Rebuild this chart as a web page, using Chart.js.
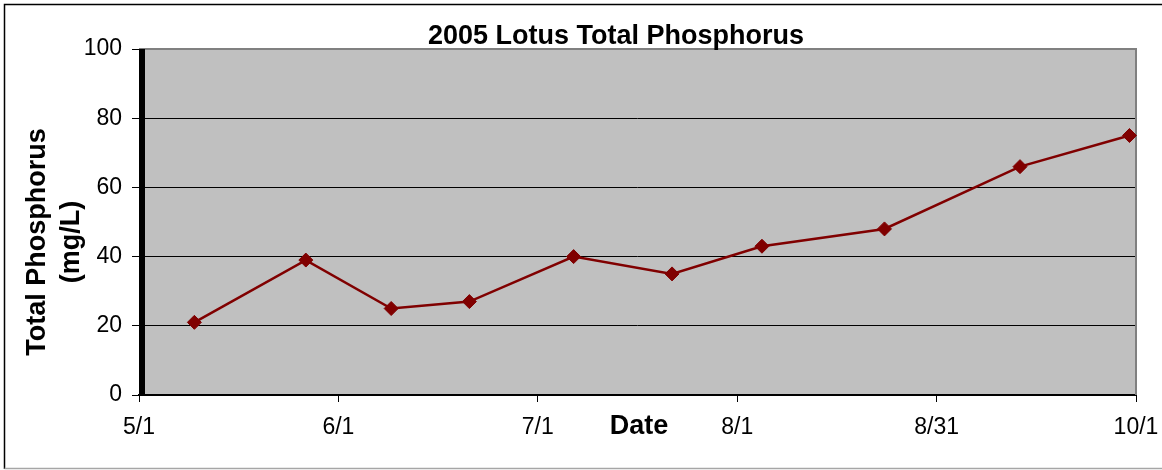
<!DOCTYPE html>
<html>
<head>
<meta charset="utf-8">
<script src="https://cdn.jsdelivr.net/npm/chart.js@4.4.1/dist/chart.umd.min.js"></script>
<style>
  html, body { margin: 0; padding: 0; background: #fff; }
</style>
</head>
<body>
<canvas id="tpChart" width="1162" height="470"></canvas>
<script>
// sample times, in days after 5/1
const sampleDay = [8.5, 25.6, 38.7, 50.7, 66.7, 81.8, 95.6, 114.4, 135.2, 152.0];
// total phosphorus, mg/L
const phosphorus = [21, 39, 25, 27, 40, 35, 43, 48, 66, 75];

const xTickLabels = ['5/1', '6/1', '7/1', '8/1', '8/31', '10/1'];
const xAxisMin = 0;    // 5/1
const xAxisMax = 153;  // 10/1
const yAxisMin = 0;
const yAxisMax = 100;
const yStep = 20;

const chartTitle = '2005 Lotus Total Phosphorus';
const yTitleLines = ['Total Phosphorus', '(mg/L)'];
const xTitle = 'Date';

const fontFamily = "'Liberation Sans', Arial, sans-serif";
const lineColor = '#800000';

const excelLook = {
  id: 'excelLook',
  beforeDraw(chart) {
    const { ctx, chartArea } = chart;
    ctx.save();
    ctx.fillStyle = '#fff';
    ctx.fillRect(0, 0, chart.width, chart.height);

    // outer frame
    ctx.strokeStyle = '#000';
    ctx.lineWidth = 1.5;
    ctx.beginPath();
    ctx.moveTo(4.5, 469);
    ctx.lineTo(4.5, 4.5);
    ctx.lineTo(chart.width, 4.5);
    ctx.stroke();
    ctx.strokeStyle = '#a6a6a6';
    ctx.beginPath();
    ctx.moveTo(4.5, 468.5);
    ctx.lineTo(chart.width, 468.5);
    ctx.stroke();

    // plot area
    ctx.fillStyle = '#c0c0c0';
    ctx.fillRect(chartArea.left, chartArea.top, chartArea.right - chartArea.left, chartArea.bottom - chartArea.top);
    ctx.restore();
  },
  beforeDatasetsDraw(chart) {
    const { ctx, chartArea } = chart;
    ctx.save();
    // grey plot border on top and right
    ctx.strokeStyle = '#808080';
    ctx.lineWidth = 2;
    ctx.beginPath();
    ctx.moveTo(chartArea.left, chartArea.top);
    ctx.lineTo(chartArea.right, chartArea.top);
    ctx.lineTo(chartArea.right, chartArea.bottom);
    ctx.stroke();
    // thick black wall on the left
    ctx.fillStyle = '#000';
    ctx.fillRect(chartArea.left, chartArea.top, 6, chartArea.bottom - chartArea.top);
    ctx.restore();
  },
  afterDraw(chart) {
    const { ctx } = chart;
    ctx.save();
    ctx.fillStyle = '#000';
    ctx.font = `bold 27px ${fontFamily}`;
    ctx.textAlign = 'center';
    ctx.textBaseline = 'middle';
    ctx.fillText(chartTitle, 616, 37);
    ctx.fillText(xTitle, 639, 427);

    ctx.translate(0, 242);
    ctx.rotate(-Math.PI / 2);
    ctx.fillText(yTitleLines[0], 0, 38);
    ctx.fillText(yTitleLines[1], 0, 72);
    ctx.restore();
  }
};

const points = sampleDay.map((d, i) => ({ x: d, y: phosphorus[i] }));

const config = {
  type: 'line',
  data: {
    datasets: [{
      label: 'Total Phosphorus',
      data: points,
      borderColor: lineColor,
      borderWidth: 2.5,
      backgroundColor: lineColor,
      pointStyle: 'rectRot',
      pointRadius: 7,
      pointBackgroundColor: lineColor,
      pointBorderColor: lineColor,
      pointBorderWidth: 1,
      tension: 0,
      fill: false,
      clip: false
    }]
  },
  options: {
    responsive: false,
    animation: false,
    layout: {
      padding: { top: 49, right: 26, left: 0, bottom: 0 }
    },
    plugins: {
      legend: { display: false },
      title: { display: false },
      tooltip: { enabled: false }
    },
    scales: {
      x: {
        type: 'linear',
        min: xAxisMin,
        max: xAxisMax,
        afterBuildTicks: (scale) => {
          const step = (xAxisMax - xAxisMin) / (xTickLabels.length - 1);
          scale.ticks = xTickLabels.map((l, i) => ({ value: xAxisMin + i * step }));
        },
        afterFit: (scale) => {
          scale.height = 75;
          scale.paddingLeft = 0;
          scale.paddingRight = 0;
        },
        ticks: {
          autoSkip: false,
          maxRotation: 0,
          padding: 12,
          color: '#000',
          font: { family: fontFamily, size: 23 },
          callback: (value, index) => xTickLabels[index]
        },
        grid: {
          drawOnChartArea: false,
          drawTicks: true,
          tickLength: 7,
          color: '#000',
          lineWidth: 1
        },
        border: { display: true, color: '#000', width: 2 }
      },
      y: {
        min: yAxisMin,
        max: yAxisMax,
        afterFit: (scale) => {
          scale.width = 139;
          scale.paddingTop = 0;
          scale.paddingBottom = 0;
        },
        ticks: {
          stepSize: yStep,
          padding: 10,
          color: '#000',
          font: { family: fontFamily, size: 23 }
        },
        grid: {
          color: '#000',
          lineWidth: 1,
          drawTicks: true,
          tickLength: 7
        },
        border: { display: false }
      }
    }
  },
  plugins: [excelLook]
};

new Chart(document.getElementById('tpChart'), config);
</script>
</body>
</html>
